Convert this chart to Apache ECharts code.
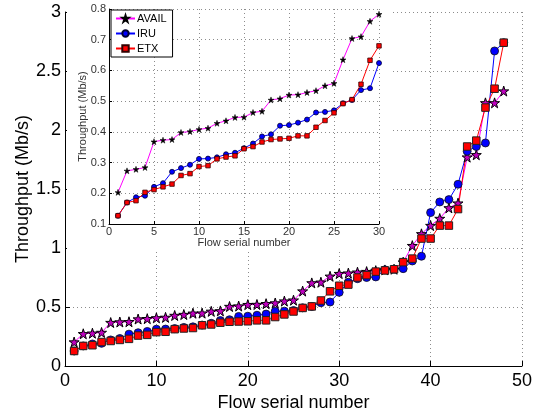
<!DOCTYPE html>
<html>
<head>
<meta charset="utf-8">
<script src="https://cdn.jsdelivr.net/npm/echarts@6/dist/echarts.min.js"></script>
<style>
  html, body { margin: 0; padding: 0; background: #fff; }
  .echarts { width: 548px; height: 413px; }
</style>
</head>
<body>
<div class="echarts"></div>
<script>
// flow ids and throughput values (Mb/s)
const flowIds = [1,2,3,4,5,6,7,8,9,10,11,12,13,14,15,16,17,18,19,20,21,22,23,24,
                 25,26,27,28,29,30,31,32,33,34,35,36,37,38,39,40,41,42,43,44,45,46,47,48];
const availVals = [0.203,0.273,0.278,0.284,0.368,0.373,0.375,0.398,0.401,0.408,0.412,0.428,
                   0.436,0.447,0.448,0.463,0.467,0.504,0.508,0.520,0.521,0.528,0.534,0.550,
                   0.558,0.635,0.704,0.710,0.760,0.783,0.787,0.795,0.800,0.808,0.814,0.820,
                   0.880,1.02,1.12,1.19,1.25,1.34,1.38,1.77,1.79,2.23,2.23,2.33];
const iruVals = [0.127,0.170,0.187,0.192,0.221,0.233,0.270,0.282,0.293,0.312,0.313,0.317,
                 0.327,0.332,0.347,0.362,0.385,0.392,0.420,0.422,0.430,0.440,0.463,0.465,
                 0.470,0.493,0.504,0.536,0.542,0.624,0.710,0.740,0.750,0.755,0.815,0.820,
                 0.825,0.89,0.93,1.30,1.39,1.41,1.54,1.82,1.86,1.89,2.67,2.74];
const etxVals = [0.127,0.170,0.176,0.203,0.212,0.221,0.230,0.258,0.264,0.287,0.290,0.312,
                 0.318,0.322,0.345,0.352,0.367,0.375,0.377,0.379,0.387,0.387,0.415,0.437,
                 0.462,0.492,0.505,0.555,0.633,0.680,0.690,0.750,0.770,0.800,0.810,0.820,
                 0.880,0.91,1.08,1.08,1.19,1.19,1.33,1.86,1.91,2.19,2.35,2.74];
const insetCount = 30;

const starPath = 'path://M50,0L61.23,34.55L97.55,34.55L68.17,55.9L79.39,90.45L50,69.1L20.61,90.45L31.83,55.9L2.45,34.55L38.77,34.55Z';
const font = 'Liberation Sans, Arial, sans-serif';

function pairs(vals, n) {
    return vals.slice(0, n).map(function (v, i) { return [flowIds[i], v]; });
}

window.addEventListener('load', function () {
    let myChart = echarts.init(document.querySelector('.echarts'));

    const dotted = { show: true, lineStyle: { color: '#8c8c8c', width: 1, type: [1, 3] } };
    const blackLine = { show: true, lineStyle: { color: '#000', width: 1 } };

    myChartOption = {
        animation: false,
        backgroundColor: '#fff',
        textStyle: { fontFamily: font },
        grid: [
            { left: 65, right: 26, top: 12, bottom: 47, outerBoundsMode: 'none', containLabel: false },
            { left: 109, right: 169, top: 9, bottom: 189, outerBoundsMode: 'none', containLabel: false }
        ],
        graphic: [{
            type: 'rect',
            shape: { x: 67, y: 0, width: 324, height: 251 },
            style: { fill: '#fff' },
            z: 1
        }],
        legend: {
            data: ['AVAIL', 'IRU', 'ETX'],
            orient: 'vertical',
            left: 111,
            top: 10,
            padding: [3, 6, 3, 4],
            itemWidth: 19,
            itemHeight: 8,
            itemGap: 4,
            borderColor: '#000',
            borderWidth: 1,
            backgroundColor: '#fff',
            textStyle: { fontSize: 11, color: '#000', fontFamily: font, padding: [0, 0, 0, -3] },
            z: 10
        },
        xAxis: [{
            gridIndex: 0,
            type: 'value',
            min: 0, max: 50, interval: 10,
            name: 'Flow serial number',
            nameLocation: 'middle',
            nameGap: 28,
            nameMoveOverlap: false,
            nameTextStyle: { fontSize: 18, color: '#000' },
            axisLine: blackLine,
            axisTick: { inside: true, length: 5, lineStyle: { color: '#000' } },
            axisLabel: { fontSize: 18, color: '#000', margin: 6 },
            splitLine: dotted
        }, {
            gridIndex: 1,
            type: 'value',
            min: 0, max: 30, interval: 5,
            name: 'Flow serial number',
            nameLocation: 'middle',
            nameGap: 13,
            nameMoveOverlap: false,
            nameTextStyle: { fontSize: 11, color: '#333' },
            axisLine: blackLine,
            axisTick: { inside: true, length: 3, lineStyle: { color: '#000' } },
            axisLabel: { fontSize: 11, color: '#333', margin: 2 },
            splitLine: dotted,
            z: 5
        }],
        yAxis: [{
            gridIndex: 0,
            type: 'value',
            min: 0, max: 3, interval: 0.5,
            name: 'Throughput (Mb/s)',
            nameLocation: 'middle',
            nameGap: 33,
            nameMoveOverlap: false,
            nameTextStyle: { fontSize: 18, color: '#000' },
            axisLine: blackLine,
            axisTick: { inside: true, length: 5, lineStyle: { color: '#000' } },
            axisLabel: { fontSize: 18, color: '#000', margin: 4 },
            splitLine: dotted
        }, {
            gridIndex: 1,
            type: 'value',
            min: 0.1, max: 0.8, interval: 0.1,
            name: 'Throughput (Mb/s)',
            nameLocation: 'middle',
            nameGap: 21,
            nameMoveOverlap: false,
            nameTextStyle: { fontSize: 11, color: '#333' },
            axisLine: blackLine,
            axisTick: { inside: true, length: 3, lineStyle: { color: '#000' } },
            axisLabel: { fontSize: 11, color: '#333', margin: 3 },
            splitLine: dotted,
            z: 5
        }],
        series: [
            // inset (first 30 flows)
            {
                name: 'AVAIL', type: 'line', xAxisIndex: 1, yAxisIndex: 1, z: 6,
                data: pairs(availVals, insetCount),
                symbol: starPath, symbolSize: 6,
                lineStyle: { color: '#ff00ff', width: 1 },
                itemStyle: { color: '#000', borderColor: '#000', borderWidth: 0.5 }
            },
            {
                name: 'IRU', type: 'line', xAxisIndex: 1, yAxisIndex: 1, z: 6,
                data: pairs(iruVals, insetCount),
                symbol: 'circle', symbolSize: 5,
                lineStyle: { color: '#0000ff', width: 1 },
                itemStyle: { color: '#0000ff', borderColor: '#000033', borderWidth: 0.8 }
            },
            {
                name: 'ETX', type: 'line', xAxisIndex: 1, yAxisIndex: 1, z: 6,
                data: pairs(etxVals, insetCount),
                symbol: 'rect', symbolSize: 4.5,
                lineStyle: { color: '#ff0000', width: 1 },
                itemStyle: { color: '#ff0000', borderColor: '#330000', borderWidth: 0.8 }
            },
            // main plot (all flows)
            {
                name: 'AVAIL', type: 'line', xAxisIndex: 0, yAxisIndex: 0,
                data: pairs(availVals, flowIds.length),
                symbol: starPath, symbolSize: 10,
                lineStyle: { color: '#ff00ff', width: 1 },
                itemStyle: { color: '#c000c0', borderColor: '#000', borderWidth: 1 }
            },
            {
                name: 'IRU', type: 'line', xAxisIndex: 0, yAxisIndex: 0,
                data: pairs(iruVals, flowIds.length),
                symbol: 'circle', symbolSize: 8,
                lineStyle: { color: '#0000ff', width: 1 },
                itemStyle: { color: '#0000ff', borderColor: '#111', borderWidth: 0.8 }
            },
            {
                name: 'ETX', type: 'line', xAxisIndex: 0, yAxisIndex: 0,
                data: pairs(etxVals, flowIds.length),
                symbol: 'rect', symbolSize: 7.5,
                lineStyle: { color: '#ff0000', width: 1 },
                itemStyle: { color: '#ff0000', borderColor: '#222', borderWidth: 1 }
            }
        ]
    };
    myChart.setOption(myChartOption);
});
</script>
</body>
</html>
